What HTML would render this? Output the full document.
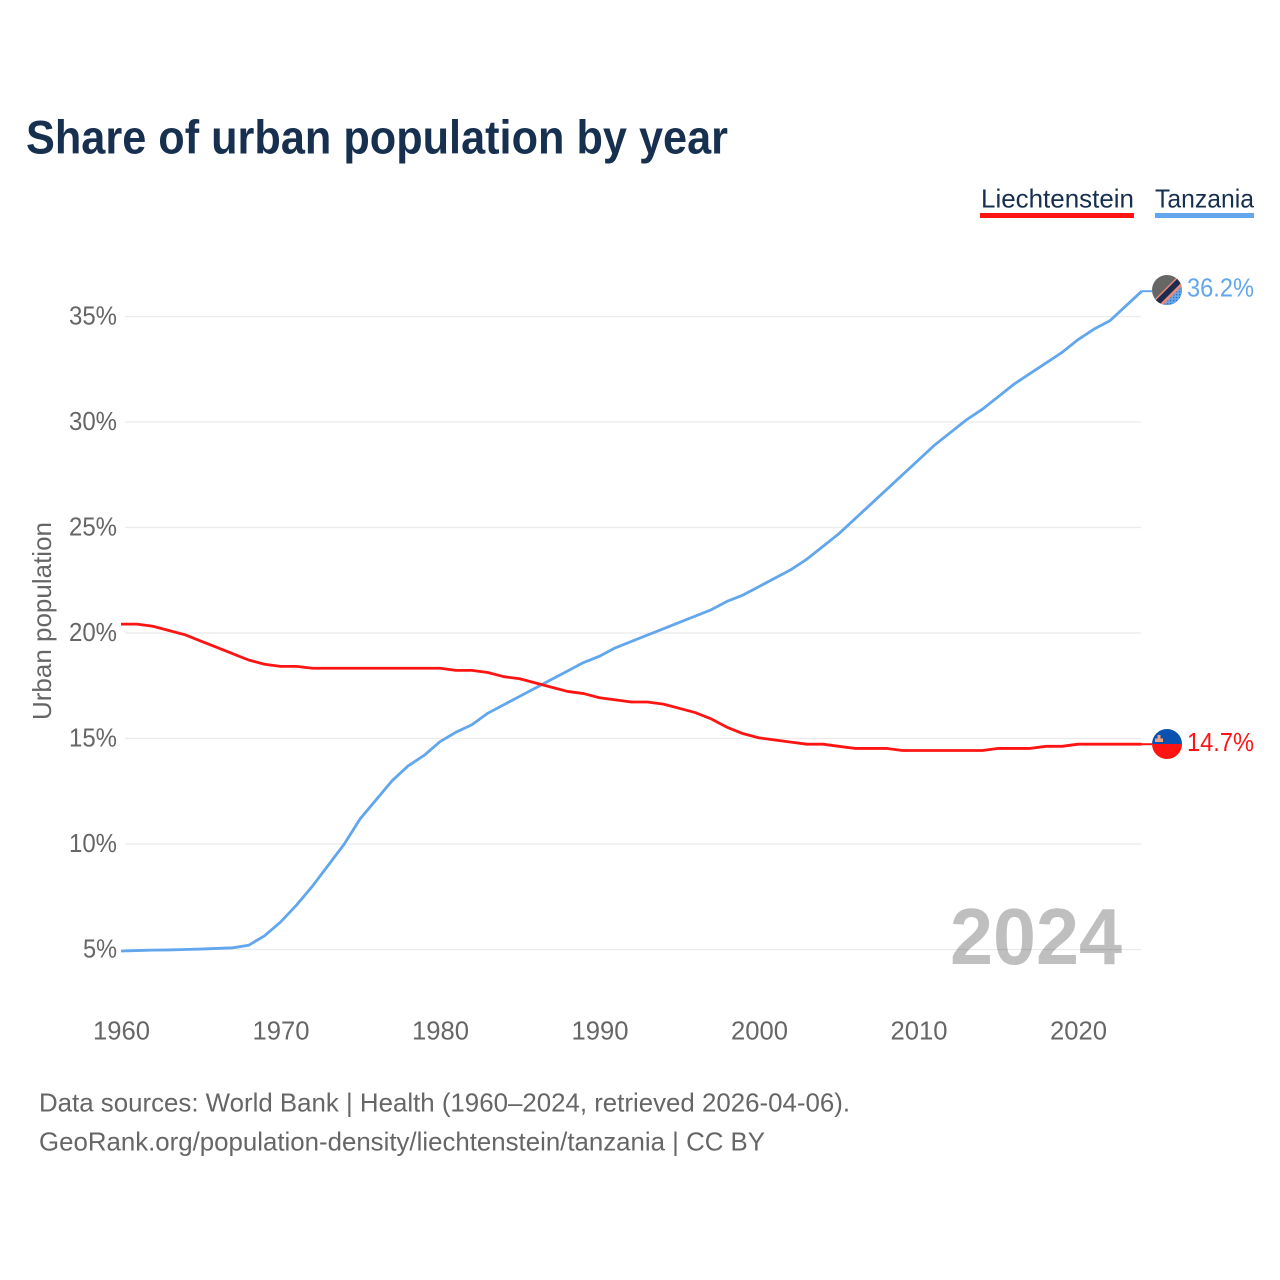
<!DOCTYPE html>
<html lang="en">
<head>
<meta charset="utf-8">
<title>Share of urban population by year</title>
<style>
html,body{margin:0;padding:0;background:#fff;}
svg{display:block;font-family:"Liberation Sans",sans-serif;}
</style>
</head>
<body>
<svg id="chart" xmlns="http://www.w3.org/2000/svg" width="1280" height="1280" viewBox="0 0 1280 1280">
  <defs>
    <clipPath id="flag-clip-tz"><circle cx="1167" cy="290" r="15"/></clipPath>
    <clipPath id="flag-clip-li"><circle cx="1167" cy="744" r="15"/></clipPath>
    <pattern id="dots" width="3" height="3" patternUnits="userSpaceOnUse"><rect width="1.3" height="1.3" fill="#1f3f78"/></pattern>
  </defs>
  <rect width="1280" height="1280" fill="#fff"/>
  <text x="26" y="153.5" font-size="47" font-weight="700" fill="#17304f" textLength="702" lengthAdjust="spacingAndGlyphs">Share of urban population by year</text>

  <g>
    <g>
      <text x="981" y="207.500" font-size="26" fill="#17304f" textLength="153" lengthAdjust="spacingAndGlyphs">Liechtenstein</text>
      <rect x="980" y="213" width="154" height="5" fill="#ff1414"/>
    </g>
    <g>
      <text x="1155" y="207.500" font-size="26" fill="#17304f" textLength="99" lengthAdjust="spacingAndGlyphs">Tanzania</text>
      <rect x="1155" y="213" width="99" height="5" fill="#62a6ee"/>
    </g>
  </g>

  <g id="grid"></g>
  <g id="yticks"></g>
  <g id="xticks"></g>
  <text transform="translate(51,621) rotate(-90)" text-anchor="middle" font-size="26" fill="#666" textLength="198" lengthAdjust="spacingAndGlyphs">Urban population</text>
  <text x="950" y="964" font-size="80" font-weight="700" fill="#000" fill-opacity="0.25" textLength="172" lengthAdjust="spacingAndGlyphs">2024</text>

  <path id="line-tanzania" fill="none" stroke="#62a6ee" stroke-width="2.8" stroke-linejoin="round"/>
  <path id="line-liechtenstein" fill="none" stroke="#ff1414" stroke-width="2.8" stroke-linejoin="round"/>
  <path id="connector-tanzania" fill="none" stroke="#62a6ee" stroke-width="2"/>
  <path id="connector-liechtenstein" fill="none" stroke="#ff1414" stroke-width="2"/>

  <g clip-path="url(#flag-clip-tz)">
    <rect x="1152" y="275" width="30" height="30" fill="#666664"/>
    <polygon points="1147,310 1187,270 1187,310" fill="#62a6ee"/>
    <polygon points="1152,305 1182,305 1182,275" fill="url(#dots)" opacity="0.55"/>
    <polygon points="1143.500,310.500 1183.500,270.500 1190.500,277.500 1150.500,317.500" fill="#f08a76"/>
    <polygon points="1145,312 1185,272 1189,276 1149,316" fill="#1a2c50" transform="translate(-0.500,-0.500)"/>
  </g>
  <g clip-path="url(#flag-clip-li)">
    <rect x="1152" y="729" width="30" height="15" fill="#0b52b0"/>
    <rect x="1152" y="744" width="30" height="15" fill="#ff1414"/>
    <path d="M1155 742v-3.500h2.500v-3.500h3v3.500h2.500v3.500z" fill="#f2a27e"/>
  </g>

  <text id="end-label-tanzania" x="1187" y="296.500" font-size="26" fill="#62a6ee" textLength="67" lengthAdjust="spacingAndGlyphs"></text>
  <text id="end-label-liechtenstein" x="1187" y="751" font-size="26" fill="#ff1414" textLength="67" lengthAdjust="spacingAndGlyphs"></text>

  <g>
    <text x="39" y="1111.500" font-size="26" fill="#666" textLength="811" lengthAdjust="spacingAndGlyphs">Data sources: World Bank | Health (1960–2024, retrieved 2026-04-06).</text>
    <text x="39" y="1150.500" font-size="26" fill="#666" textLength="726" lengthAdjust="spacingAndGlyphs">GeoRank.org/population-density/liechtenstein/tanzania | CC BY</text>
  </g>
</svg>
<script>
const years = [1960,1961,1962,1963,1964,1965,1966,1967,1968,1969,1970,1971,1972,1973,1974,1975,1976,1977,1978,1979,1980,1981,1982,1983,1984,1985,1986,1987,1988,1989,1990,1991,1992,1993,1994,1995,1996,1997,1998,1999,2000,2001,2002,2003,2004,2005,2006,2007,2008,2009,2010,2011,2012,2013,2014,2015,2016,2017,2018,2019,2020,2021,2022,2023,2024];
const tanzania = [4.93,4.95,4.97,4.98,5.0,5.02,5.05,5.08,5.2,5.65,6.3,7.1,8.0,9.0,10.0,11.2,12.1,13.0,13.7,14.2,14.85,15.3,15.65,16.2,16.6,17.0,17.4,17.8,18.2,18.6,18.9,19.3,19.6,19.9,20.2,20.5,20.8,21.1,21.5,21.8,22.2,22.6,23.0,23.5,24.1,24.7,25.4,26.1,26.8,27.5,28.2,28.9,29.5,30.1,30.6,31.2,31.8,32.3,32.8,33.3,33.9,34.4,34.8,35.5,36.2];
const liechtenstein = [20.42,20.42,20.32,20.12,19.92,19.62,19.32,19.02,18.72,18.52,18.42,18.42,18.33,18.33,18.33,18.33,18.33,18.33,18.33,18.33,18.33,18.23,18.23,18.13,17.93,17.83,17.63,17.43,17.23,17.13,16.93,16.83,16.73,16.73,16.63,16.43,16.23,15.93,15.53,15.23,15.03,14.93,14.83,14.73,14.73,14.63,14.53,14.53,14.53,14.43,14.43,14.43,14.43,14.43,14.43,14.53,14.53,14.53,14.63,14.63,14.73,14.73,14.73,14.73,14.73];
const yTicks = [5,10,15,20,25,30,35];
const xTicks = [1960,1970,1980,1990,2000,2010,2020];
const endLabelTanzania = "36.2%";
const endLabelLiechtenstein = "14.7%";

const NS = "http://www.w3.org/2000/svg";
function xScale(year){ return 121 + (year - 1960) * 15.95; }
function yScale(value){ return 949.5 - (value - 5) * 21.1; }
function linePath(values){
  return values.map(function(v,i){ return (i ? "L" : "M") + xScale(years[i]).toFixed(2) + " " + yScale(v).toFixed(2); }).join("");
}
function connectorPath(values){
  const last = values[values.length - 1];
  return "M" + xScale(years[years.length - 1]).toFixed(2) + " " + yScale(last).toFixed(2) + "H1152";
}

const grid = document.getElementById("grid");
const yG = document.getElementById("yticks");
const xG = document.getElementById("xticks");

yTicks.forEach(function(t){
  const line = document.createElementNS(NS, "line");
  
  
  line.setAttribute("x1", 125);
  line.setAttribute("x2", 1141);
  line.setAttribute("y1", yScale(t));
  line.setAttribute("y2", yScale(t));
  line.setAttribute("stroke", "#ebebeb");
  line.setAttribute("stroke-width", "1.3");
  grid.appendChild(line);

  const text = t + "%";
  const label = document.createElementNS(NS, "text");
  
  
  label.setAttribute("x", 117);
  label.setAttribute("y", yScale(t) + 8);
  label.setAttribute("text-anchor", "end");
  label.setAttribute("font-size", "26");
  label.setAttribute("fill", "#666");
  label.setAttribute("textLength", text.length === 2 ? 34 : 48);
  label.setAttribute("lengthAdjust", "spacingAndGlyphs");
  label.textContent = text;
  yG.appendChild(label);
});

xTicks.forEach(function(t){
  const label = document.createElementNS(NS, "text");
  
  
  label.setAttribute("x", xScale(t) + 0.5);
  label.setAttribute("y", 1039.5);
  label.setAttribute("text-anchor", "middle");
  label.setAttribute("font-size", "26");
  label.setAttribute("fill", "#666");
  label.setAttribute("textLength", 57);
  label.setAttribute("lengthAdjust", "spacingAndGlyphs");
  label.textContent = t;
  xG.appendChild(label);
});

document.getElementById("line-tanzania").setAttribute("d", linePath(tanzania));
document.getElementById("line-liechtenstein").setAttribute("d", linePath(liechtenstein));
document.getElementById("connector-tanzania").setAttribute("d", connectorPath(tanzania));
document.getElementById("connector-liechtenstein").setAttribute("d", connectorPath(liechtenstein));
document.getElementById("end-label-tanzania").textContent = endLabelTanzania;
document.getElementById("end-label-liechtenstein").textContent = endLabelLiechtenstein;
</script>
</body>
</html>
